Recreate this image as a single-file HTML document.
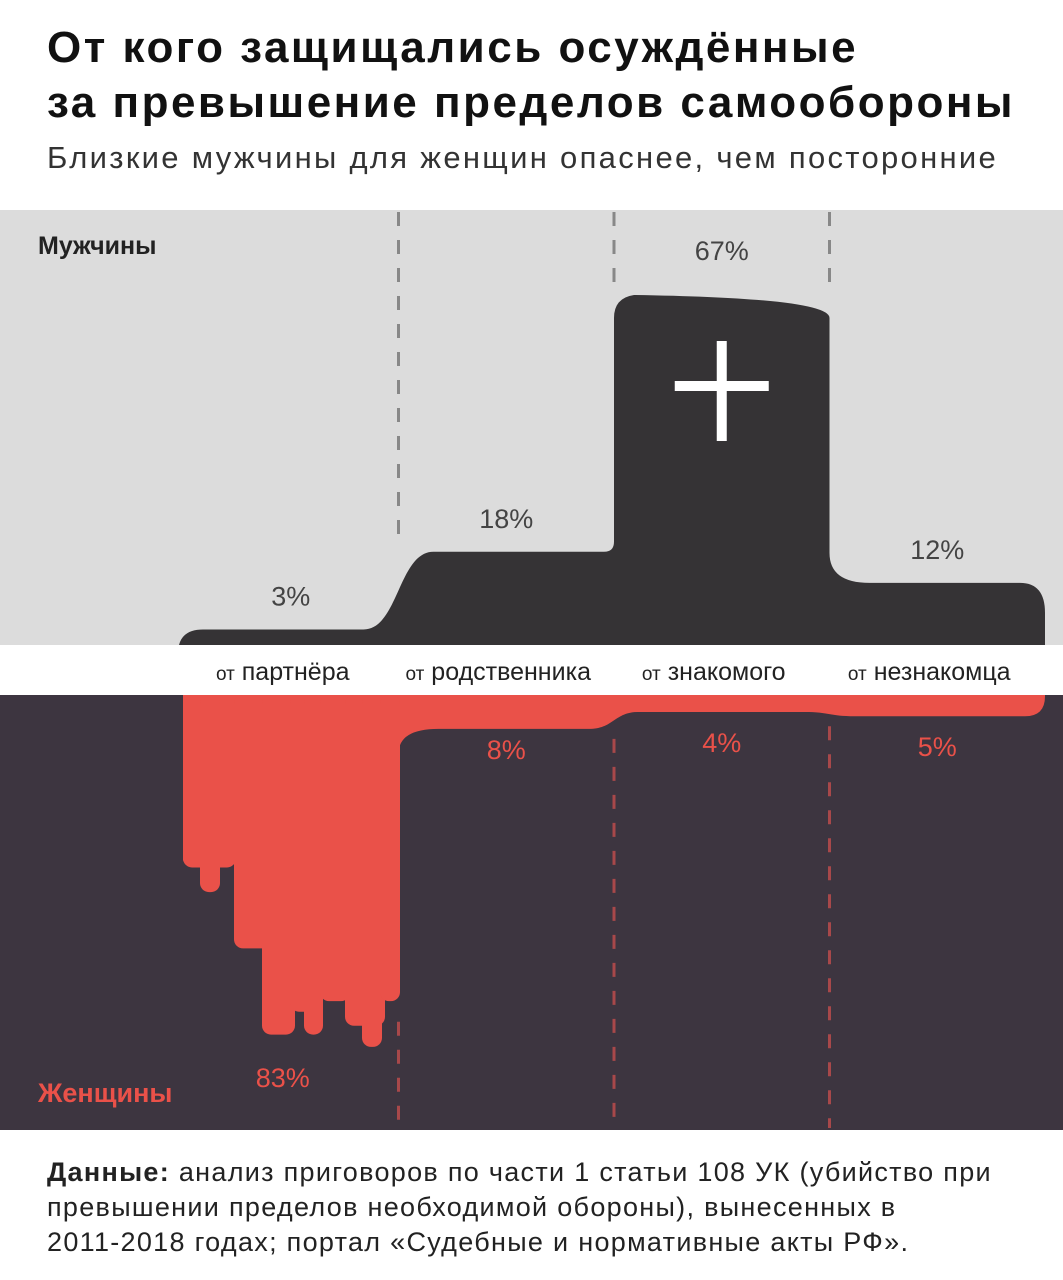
<!DOCTYPE html>
<html><head><meta charset="utf-8"><style>
body{margin:0;background:#fff;font-family:"Liberation Sans",sans-serif;}
#wrap{position:relative;width:1063px;height:1280px;overflow:hidden;}
.t{position:absolute;left:47px;margin:0;color:#111;white-space:nowrap;}
</style></head><body>
<div id="wrap">
<h1 class="t" style="top:20px;font-size:44px;line-height:55px;font-weight:bold;letter-spacing:2.5px">От кого защищались осуждённые<br>за превышение пределов самообороны</h1>
<div class="t" style="top:140px;font-size:31px;color:#333;letter-spacing:2.3px">Близкие мужчины для женщин опаснее, чем посторонние</div>
<svg id="chart" width="1063" height="1140" style="position:absolute;left:0;top:0" font-family="Liberation Sans, sans-serif"></svg>
<div class="t" style="top:1155px;font-size:27px;line-height:35px;color:#222;letter-spacing:1.3px"><b>Данные:</b> анализ приговоров по части 1 статьи 108 УК (убийство при<br>превышении пределов необходимой обороны), вынесенных в<br>2011-2018 годах; портал «Судебные и нормативные акты РФ».</div>
</div>
<script>
const categories=["от партнёра","от родственника","от знакомого","от незнакомца"];
const menValues=[3,18,67,12];
const womenValues=[83,8,4,5];
const NS="http://www.w3.org/2000/svg";
const svg=document.getElementById('chart');
function mk(tag,attrs,parent){const e=document.createElementNS(NS,tag);for(const k in attrs)e.setAttribute(k,attrs[k]);(parent||svg).appendChild(e);return e;}
const colX=i=>183+i*215.5;const colW=215.5;
const menBase=645,menScale=5.18,womenTop=695,womenScale=4.24;
const yMen=v=>menBase-v*menScale;const yWomen=v=>womenTop+v*womenScale;
let e;
e=mk('rect',{x:0,y:210,width:1063,height:435,fill:'#dcdcdc'});

e=mk('rect',{x:0,y:695,width:1063,height:435,fill:'#3d3540'});

let d=`M${colX(0)-4},${menBase} Q${colX(0)},${yMen(menValues[0])} ${colX(0)+20},${yMen(menValues[0])}`;
for(let i=0;i<menValues.length;i++){
  const y=yMen(menValues[i]);const x1=colX(i)+colW;
  if(i<menValues.length-1){const yn=yMen(menValues[i+1]);
    if(Math.abs(yn-y)>150){const up=yn<y;
      if(up){d+=` L${x1-10},${y} Q${x1},${y} ${x1},${y-10} L${x1},${yn+20} Q${x1},${yn} ${x1+20},${yn-3}`;}
      else{d+=` Q${x1},${y} ${x1},${y+20} L${x1},${yn-30} Q${x1},${yn} ${x1+40},${yn}`;}
    } else d+=` L${x1-35},${y} C${x1},${y} ${x1},${yn} ${x1+35},${yn}`;
  } else d+=` L${x1-25},${y} Q${x1},${y} ${x1},${y+30} L${x1},${menBase} Z`;
}
e=mk('path',{d:d,fill:'#353335'});

const mi=menValues.indexOf(Math.max(...menValues));const cx=colX(mi)+colW/2,cy=yMen(menValues[mi])+88;
e=mk('path',{d:`M${cx-5},${cy-45}h10v40h42v10h-42v50h-10v-50h-42v-10h42z`,fill:'#fff'});

const RED='#ea5149';
let w='';
for(let i=1;i<womenValues.length;i++){const y=yWomen(womenValues[i]);
  if(i===1){w=`M${colX(1)},${womenTop} L${colX(1)},${y+25} Q${colX(1)},${y} ${colX(1)+40},${y}`;}
  const x1=colX(i)+colW;
  if(i<womenValues.length-1){const yn=yWomen(womenValues[i+1]);w+=` L${x1-25},${y} C${x1},${y} ${x1},${yn} ${x1+25},${yn}`;}
  else w+=` L${x1-20},${y} Q${x1},${y} ${x1},${y-20} L${x1},${womenTop} Z`;
}
e=mk('path',{d:w,fill:RED});

const H0=womenValues[0]*womenScale;
const drips=[[0,53,0.49],[17,37,0.56],[51,92,0.72],[79,112,0.965],[107,140,0.90],[121,140,0.965],[137,167,0.87],[162,202,0.94],[179,199,1.0],[197,217,0.87]];
e=mk('rect',{x:colX(0),y:womenTop,width:217,height:H0*0.47,fill:RED});

drips.forEach(p=>{const r=mk('rect',{x:colX(0)+p[0],y:womenTop,width:p[1]-p[0],height:H0*p[2],rx:9,fill:RED});
  });
e=mk('rect',{x:0,y:685,width:1063,height:10,fill:'#fff'});
for(let i=1;i<4;i++){const x=colX(i);
  const top=Math.min(yMen(menValues[i-1]),yMen(menValues[i]))-10;
  e=mk('line',{x1:x,y1:212,x2:x,y2:top,stroke:'#888','stroke-width':3,'stroke-dasharray':'14,14'});
  
  const bt=i===1?womenTop+H0*0.9+10:Math.max(yWomen(womenValues[i-1]),yWomen(womenValues[i]))+10;
  e=mk('line',{x1:x,y1:bt,x2:x,y2:1128,stroke:'#a8484a','stroke-width':3,'stroke-dasharray':'14,14'});
  
}
categories.forEach((c,i)=>{
  const cxm=colX(i)+colW/2;
  let t=mk('text',{x:cxm,y:yMen(menValues[i])-(i===mi?38:24),'text-anchor':'middle','font-size':27,fill:'#444'});t.textContent=menValues[i]+'%';
  
  let ty=i===0?womenTop+H0+40:yWomen(womenValues[i])+(i===1?30:40);
  t=mk('text',{x:cxm+(i===0?-8:0),y:ty,'text-anchor':'middle','font-size':27,fill:RED});t.textContent=womenValues[i]+'%';
  
  const parts=c.split(' ');
  t=mk('text',{x:cxm-8,y:680,'text-anchor':'middle','font-size':25,fill:'#222'});
  t.innerHTML=`<tspan font-size="19">${parts[0]}</tspan> ${parts.slice(1).join(' ')}`;
  
});
let t=mk('text',{x:38,y:254,'font-size':25,'font-weight':'bold',fill:'#222'});t.textContent='Мужчины';

t=mk('text',{x:38,y:1102,'font-size':27,'font-weight':'bold',fill:RED});t.textContent='Женщины';

</script>
</body></html>
